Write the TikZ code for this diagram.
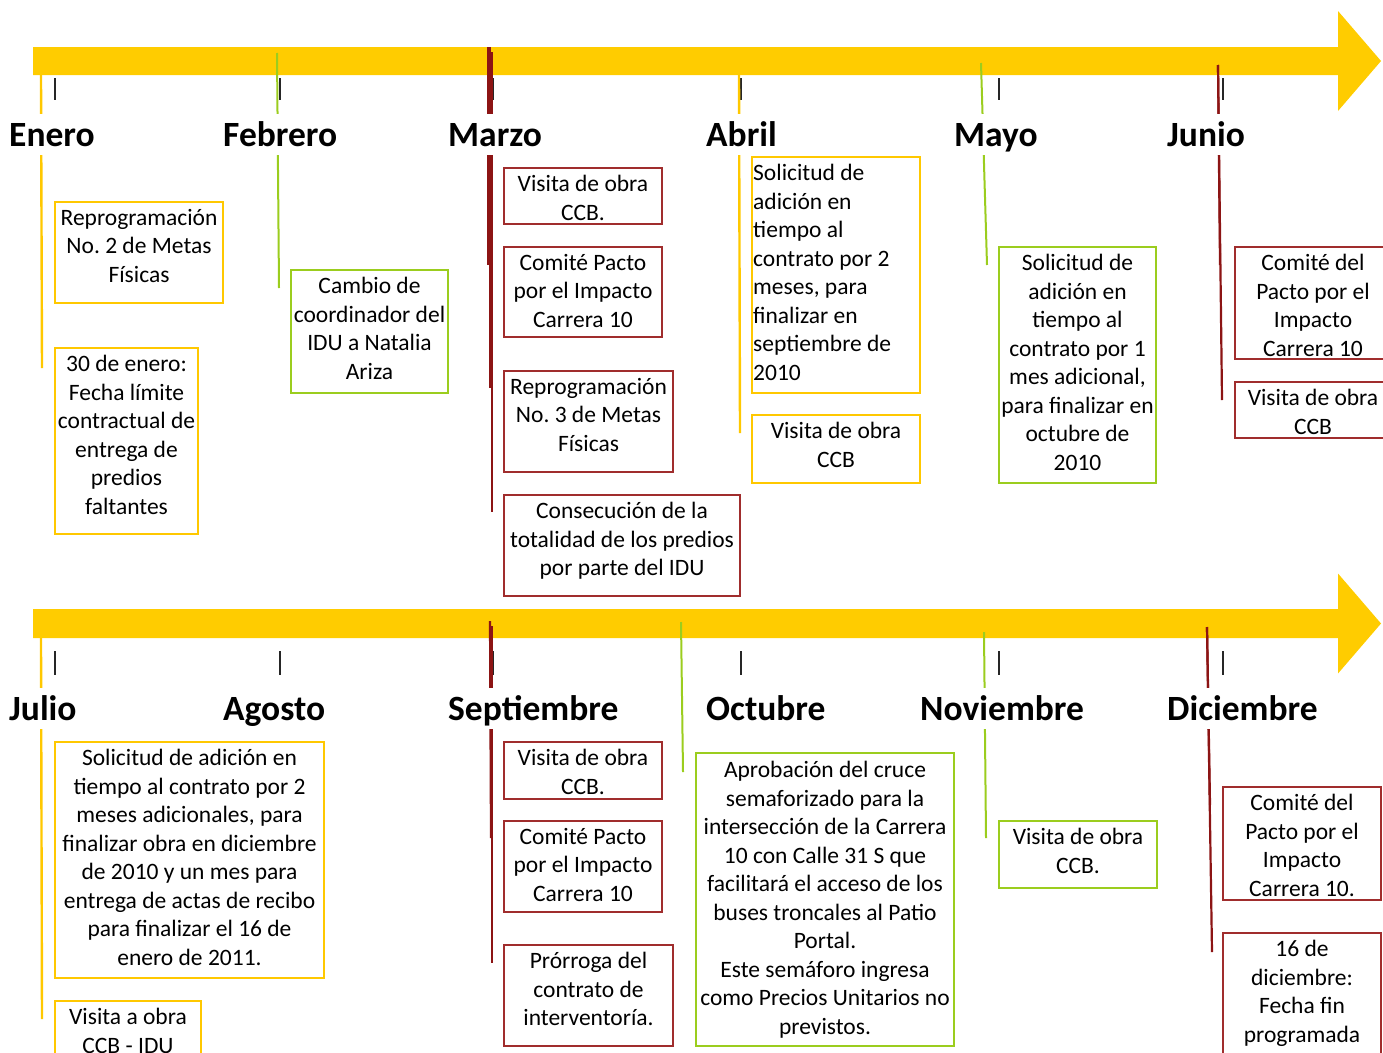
\documentclass[tikz,border=0pt]{standalone}
\usepackage{fontspec}
\setmainfont{Carlito}
\frenchspacing
\newcommand\boxfont{\fontsize{23.5pt}{28.5pt}\selectfont}
\newcommand\monthfont{\fontsize{35.5pt}{42pt}\selectfont\bfseries}
\definecolor{gold}{RGB}{255,204,0}
\definecolor{boxgold}{RGB}{255,200,0}
\definecolor{leaf}{RGB}{155,205,30}
\definecolor{wine}{RGB}{140,20,20}
\definecolor{winebox}{RGB}{160,45,45}
\tikzset{
  ybox/.style={draw=boxgold, line width=1.8pt, inner sep=0pt, outer sep=0pt},
  gbox/.style={draw=leaf, line width=1.8pt, inner sep=0pt, outer sep=0pt},
  rbox/.style={draw=winebox, line width=1.8pt, inner sep=0pt, outer sep=0pt},
  txt/.style={font=\boxfont, align=center, inner sep=0pt, anchor=north},
  month/.style={font=\monthfont, fill=white, anchor=base west, inner xsep=0pt,
    inner ysep=2pt, text height=30pt, text depth=7pt},
  yline/.style={draw=boxgold, line width=2.4pt},
  gline/.style={draw=leaf, line width=2pt},
  rline/.style={draw=wine, line width=2.2pt},
  tickmark/.style={draw=black!85, line width=1.5pt},
}
\begin{document}
\begin{tikzpicture}[x=1pt, y=-1pt]
\useasboundingbox (0,0) rectangle (1383,1052);
\clip (0,0) rectangle (1383,1052);

% time axes
\fill[gold] (33,47) -- (1338,47) -- (1338,11) -- (1381,61) -- (1338,111)
  -- (1338,75) -- (33,75) -- cycle;
\fill[gold] (33,609) -- (1338,609) -- (1338,573.5) -- (1381,623.5) -- (1338,673.5)
  -- (1338,638) -- (33,638) -- cycle;

% month ticks
\foreach \x in {55,280,493,741,999,1223} {
  \draw[tickmark] (\x,78) -- (\x,100);
  \draw[tickmark] (\x,651) -- (\x,675);
}

% connectors, first half of the year
\coordinate (c1a) at (41,75);    \coordinate (c1b) at (42,368);
\coordinate (c2a) at (277,53);   \coordinate (c2b) at (279,288);
\coordinate (c3a) at (488,47);   \coordinate (c3b) at (488,265);
\coordinate (c4a) at (490,47);   \coordinate (c4b) at (490,388);
\coordinate (c5a) at (492,52);   \coordinate (c5b) at (492,512);
\coordinate (c6a) at (739,75);   \coordinate (c6b) at (740,433);
\coordinate (c7a) at (981,63);   \coordinate (c7b) at (987,265);
\coordinate (c8a) at (1218,65);  \coordinate (c8b) at (1220,265);
\coordinate (c9a) at (1218,65);  \coordinate (c9b) at (1222,400);
\draw[yline] (c1a) -- (c1b);
\draw[gline] (c2a) -- (c2b);
\draw[rline] (c3a) -- (c3b);
\draw[rline] (c4a) -- (c4b);
\draw[rline] (c5a) -- (c5b);
\draw[yline] (c6a) -- (c6b);
\draw[gline] (c7a) -- (c7b);
\draw[rline] (c8a) -- (c8b);
\draw[rline] (c9a) -- (c9b);

% connectors, second half of the year
\coordinate (d1a) at (41,638);   \coordinate (d1b) at (42,1019);
\coordinate (d2a) at (490,621);  \coordinate (d2b) at (491,838);
\coordinate (d3a) at (492,626);  \coordinate (d3b) at (492,963);
\coordinate (d4a) at (681,622);  \coordinate (d4b) at (683,772);
\coordinate (d5a) at (984,632);  \coordinate (d5b) at (986,838);
\coordinate (d6a) at (1207,627); \coordinate (d6b) at (1210,805);
\coordinate (d7a) at (1207,627); \coordinate (d7b) at (1212,952);
\draw[yline] (d1a) -- (d1b);
\draw[rline] (d2a) -- (d2b);
\draw[rline] (d3a) -- (d3b);
\draw[gline] (d4a) -- (d4b);
\draw[gline] (d5a) -- (d5b);
\draw[rline] (d6a) -- (d6b);
\draw[rline] (d7a) -- (d7b);

% month names
\node[month] (ene) at (9,146) {Enero};
\node[month] (feb) at (223,146) {Febrero};
\node[month] (mar) at (448,146) {Marzo};
\node[month] (abr) at (706,146) {Abril};
\node[month] (may) at (954,146) {Mayo};
\node[month] (jun) at (1167,146) {Junio};
\node[month] (jul) at (9,720) {Julio};
\node[month] (ago) at (223,720) {Agosto};
\node[month] (sep) at (448,720) {Septiembre};
\node[month] (oct) at (706,720) {Octubre};
\node[month] (nov) at (920,720) {Noviembre};
\node[month] (dic) at (1167,720) {Diciembre};

% events, January to June
\node[ybox, anchor=north west, minimum width=168, minimum height=101] (b1) at (55,202) {};
\node[txt] (t1) at ([yshift=-7pt]b1.north) {Reprogramación\\No. 2 de Metas\\Físicas};
\node[ybox, anchor=north west, minimum width=143, minimum height=186] (b2) at (55,348) {};
\node[txt] (t2) at ([yshift=-7pt]b2.north) {30 de enero:\\Fecha límite\\contractual de\\entrega de\\predios\\faltantes};
\node[gbox, anchor=north west, minimum width=157, minimum height=123] (b3) at (291,270) {};
\node[txt] (t3) at ([yshift=-7pt]b3.north) {Cambio de\\coordinador del\\IDU a Natalia\\Ariza};
\node[rbox, anchor=north west, minimum width=158, minimum height=56] (b4) at (504,168) {};
\node[txt] (t4) at ([yshift=-7pt]b4.north) {Visita de obra\\CCB.};
\node[rbox, anchor=north west, minimum width=158, minimum height=90] (b5) at (504,247) {};
\node[txt] (t5) at ([yshift=-7pt]b5.north) {Comité Pacto\\por el Impacto\\Carrera 10};
\node[rbox, anchor=north west, minimum width=169, minimum height=101] (b6) at (504,371) {};
\node[txt] (t6) at ([yshift=-7pt]b6.north) {Reprogramación\\No. 3 de Metas\\Físicas};
\node[rbox, anchor=north west, minimum width=236, minimum height=101] (b7) at (504,495) {};
\node[txt] (t7) at ([yshift=-7pt]b7.north) {Consecución de la\\totalidad de los predios\\por parte del IDU};
\node[ybox, anchor=north west, minimum width=168, minimum height=236] (b8) at (752,157) {};
\node[txt, anchor=north west, align=left] (t8) at ([xshift=1pt,yshift=-7pt]b8.north west)
  {Solicitud de\\adición en\\tiempo al\\contrato por 2\\meses, para\\finalizar en\\septiembre de\\2010};
\node[ybox, anchor=north west, minimum width=168, minimum height=68] (b9) at (752,415) {};
\node[txt] (t9) at ([yshift=-7pt]b9.north) {Visita de obra\\CCB};
\node[gbox, anchor=north west, minimum width=157, minimum height=236] (b10) at (999,247) {};
\node[txt] (t10) at ([yshift=-7pt]b10.north) {Solicitud de\\adición en\\tiempo al\\contrato por 1\\mes adicional,\\para finalizar en\\octubre de\\2010};
\node[rbox, anchor=north west, minimum width=156, minimum height=112] (b11) at (1235,247) {};
\node[txt] (t11) at ([yshift=-7pt]b11.north) {Comité del\\Pacto por el\\Impacto\\Carrera 10};
\node[rbox, anchor=north west, minimum width=156, minimum height=56] (b12) at (1235,382) {};
\node[txt] (t12) at ([yshift=-7pt]b12.north) {Visita de obra\\CCB};

% events, July to December
\node[ybox, anchor=north west, minimum width=269, minimum height=236] (b13) at (55,742) {};
\node[txt] (t13) at ([yshift=-7pt]b13.north) {Solicitud de adición en\\tiempo al contrato por 2\\meses adicionales, para\\finalizar obra en diciembre\\de 2010 y un mes para\\entrega de actas de recibo\\para finalizar el 16 de\\enero de 2011.};
\node[ybox, anchor=north west, minimum width=146, minimum height=70] (b14) at (55,1001) {};
\node[txt] (t14) at ([yshift=-7pt]b14.north) {Visita a obra\\CCB - IDU};
\node[rbox, anchor=north west, minimum width=158, minimum height=57] (b15) at (504,742) {};
\node[txt] (t15) at ([yshift=-7pt]b15.north) {Visita de obra\\CCB.};
\node[rbox, anchor=north west, minimum width=158, minimum height=91] (b16) at (504,821) {};
\node[txt] (t16) at ([yshift=-7pt]b16.north) {Comité Pacto\\por el Impacto\\Carrera 10};
\node[rbox, anchor=north west, minimum width=169, minimum height=101] (b17) at (504,945) {};
\node[txt] (t17) at ([yshift=-7pt]b17.north) {Prórroga del\\contrato de\\interventoría.};
\node[gbox, anchor=north west, minimum width=258, minimum height=293] (b18) at (696,753) {};
\node[txt] (t18) at ([yshift=-8pt]b18.north) {Aprobación del cruce\\semaforizado para la\\intersección de la Carrera\\10 con Calle 31 S que\\facilitará el acceso de los\\buses troncales al Patio\\Portal.\\Este semáforo ingresa\\como Precios Unitarios no\\previstos.};
\node[gbox, anchor=north west, minimum width=158, minimum height=67] (b19) at (999,821) {};
\node[txt] (t19) at ([yshift=-7pt]b19.north) {Visita de obra\\CCB.};
\node[rbox, anchor=north west, minimum width=158, minimum height=113] (b20) at (1223,787) {};
\node[txt] (t20) at ([yshift=-7pt]b20.north) {Comité del\\Pacto por el\\Impacto\\Carrera 10.};
\node[rbox, anchor=north west, minimum width=158, minimum height=140] (b21) at (1223,933) {};
\node[txt] (t21) at ([yshift=-7pt]b21.north) {16 de\\diciembre:\\Fecha fin\\programada};
\end{tikzpicture}
\end{document}
